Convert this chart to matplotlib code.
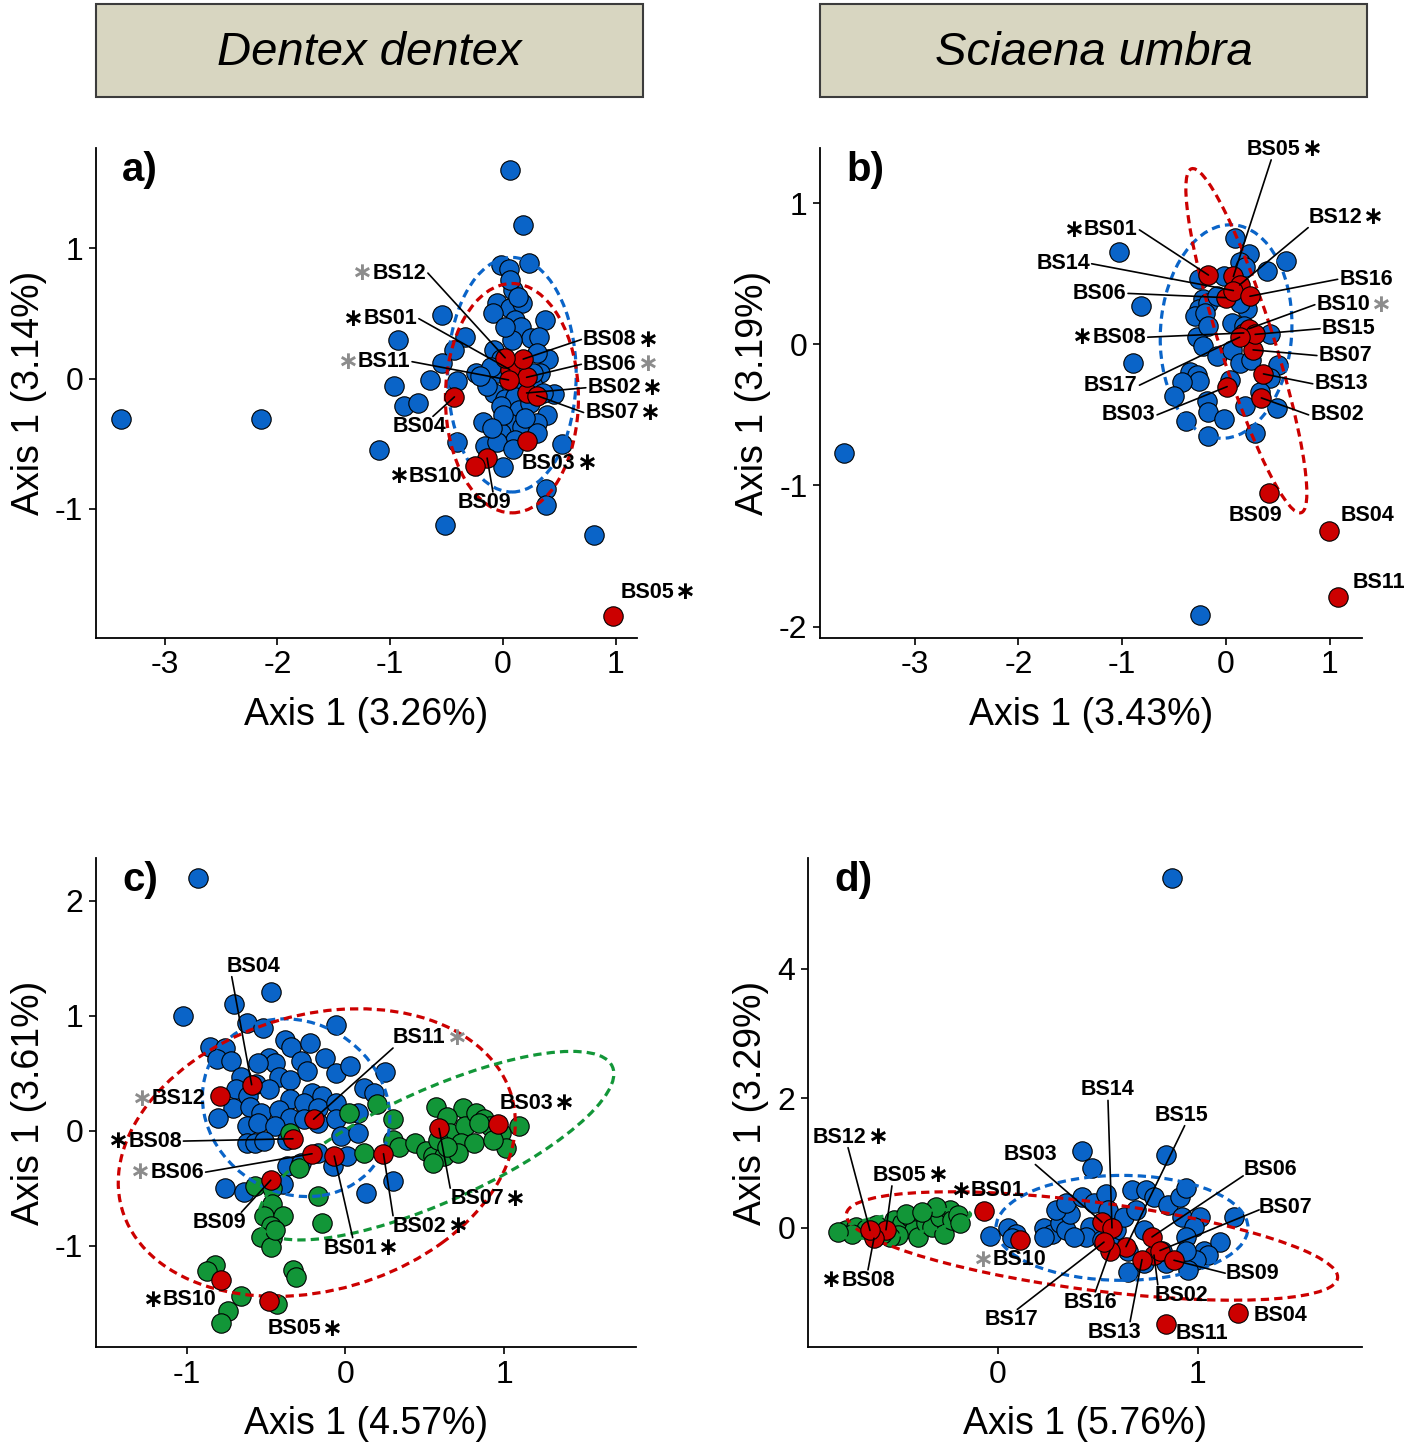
import numpy as np
import matplotlib
matplotlib.use("Agg")
import matplotlib.pyplot as plt
from matplotlib.patches import Ellipse, Rectangle

plt.rcParams['font.family'] = ['Liberation Sans', 'DejaVu Sans']

BLUE = '#0a64c8'
RED = '#cc0000'
GREEN = '#129638'
GRAY = '#8c8c8c'

# ---------------- panel a : Dentex dentex ----------------
a_blue_x = [-3.39, -2.15, -1.10, -0.93, -0.97, -0.88, -0.75, -0.65, -0.54, -0.51, 0.06, 0.18, 0.23,
            -0.02, 0.05, 0.81, 0.38, 0.38, 0.52, 0.00, -0.18, -0.41, -0.16, 0.37, 0.40, 0.45, 0.39,
            -0.34, -0.43, -0.54, -0.41, -0.24, -0.17, -0.05, 0.06, 0.17, 0.09, 0.11, 0.16, -0.09,
            0.25, 0.32, 0.08, -0.08, -0.02, 0.30, 0.33, -0.05, 0.14, -0.08, 0.02, 0.11, 0.27, -0.02,
            0.14, 0.24, 0.05, 0.17, 0.30, -0.02, 0.11, 0.30, -0.05, 0.09, -0.11, -0.14, 0.36, 0.27,
            0.06, 0.13, 0.02, -0.20, 0.20, 0.00, -0.10]
a_blue_y = [-0.31, -0.31, -0.55, 0.30, -0.06, -0.21, -0.19, -0.01, 0.49, -1.12, 1.60, 1.18, 0.89,
            0.87, 0.84, -1.20, -0.85, -0.97, -0.50, -0.68, -0.33, -0.49, -0.52, 0.45, 0.15, -0.12, -0.28,
            0.32, 0.22, 0.12, -0.02, 0.04, 0.01, 0.58, 0.54, 0.58, 0.68, 0.45, 0.40, 0.50,
            0.31, 0.32, 0.30, 0.22, 0.15, 0.20, 0.04, 0.04, -0.01, -0.11, -0.16, -0.14, -0.06, -0.21,
            -0.24, -0.19, -0.34, -0.37, -0.34, -0.42, -0.47, -0.42, -0.49, -0.54, 0.09, -0.06, -0.11, 0.04,
            0.76, 0.63, 0.40, 0.02, -0.30, -0.28, -0.38]
a_green_x = []
a_green_y = []
a_red_names = ['BS01', 'BS02', 'BS03', 'BS04', 'BS05', 'BS06', 'BS07', 'BS08', 'BS09', 'BS10', 'BS11', 'BS12']
a_red_x = [0.06, 0.21, 0.21, -0.43, 0.98, 0.21, 0.30, 0.18, -0.14, -0.25, 0.05, 0.02]
a_red_y = [0.07, -0.11, -0.48, -0.14, -1.82, 0.01, -0.13, 0.15, -0.61, -0.67, -0.01, 0.16]

# ---------------- panel b : Sciaena umbra ----------------
b_blue_x = [-3.68, -1.03, -0.82, -0.90, -0.25, 0.09, 0.22, 0.58, 0.39, -0.26, -0.02, 0.13, 0.18,
            -0.22, -0.26, -0.17, -0.09, -0.30, -0.20, 0.20, 0.13, -0.28, -0.17, 0.06, 0.17, 0.42,
            -0.22, -0.09, 0.06, 0.13, 0.24, 0.50, 0.42, -0.35, -0.28, -0.26, -0.42, -0.50, -0.18,
            -0.17, -0.02, -0.39, -0.17, 0.18, 0.28, 0.49, 0.33, 0.04]
b_blue_y = [-0.77, 0.65, 0.27, -0.13, -1.92, 0.75, 0.64, 0.59, 0.52, 0.46, 0.48, 0.58, 0.55,
            0.32, 0.25, 0.29, 0.34, 0.20, 0.22, 0.25, 0.29, 0.05, 0.13, 0.15, 0.13, 0.07,
            -0.01, -0.08, -0.04, -0.13, -0.11, -0.15, -0.24, -0.20, -0.22, -0.26, -0.27, -0.37, -0.40,
            -0.48, -0.53, -0.54, -0.65, -0.44, -0.63, -0.45, -0.34, -0.25]
b_green_x = []
b_green_y = []
b_red_names = ['BS01', 'BS02', 'BS03', 'BS04', 'BS05', 'BS06', 'BS07', 'BS08', 'BS09', 'BS10', 'BS11',
               'BS12', 'BS13', 'BS14', 'BS15', 'BS16', 'BS17']
b_red_x = [-0.17, 0.34, 0.01, 0.99, 0.07, 0.00, 0.26, 0.17, 0.41, 0.22, 1.08, 0.13, 0.36, 0.07, 0.28, 0.23, 0.13]
b_red_y = [0.49, -0.38, -0.30, -1.32, 0.48, 0.33, -0.04, 0.08, -1.05, 0.11, -1.79, 0.42, -0.21, 0.38, 0.07, 0.34, 0.05]

# ---------------- panel c : Dentex dentex ----------------
c_blue_x = [-0.93, -1.02, -0.47, -0.70, -0.62, -0.52, -0.85, -0.76, -0.81, -0.72, -0.38, -0.34, -0.48,
            -0.44, -0.28, -0.13, -0.06, -0.66, -0.56, -0.42, -0.35, -0.24, -0.06, 0.03, -0.69, -0.61,
            -0.48, -0.35, -0.21, -0.15, -0.71, -0.80, -0.60, -0.53, -0.42, -0.35, -0.26, -0.17, -0.06,
            0.12, 0.18, 0.25, -0.62, -0.55, -0.44, -0.26, -0.17, -0.06, 0.08, -0.62, -0.57, -0.51, -0.37,
            -0.03, 0.08, -0.37, -0.28, -0.17, -0.08, -0.76, -0.64, -0.39, 0.13, 0.30, 0.01, -0.55, -0.22]
c_blue_y = [2.20, 1.00, 1.21, 1.10, 0.94, 0.89, 0.73, 0.72, 0.62, 0.61, 0.79, 0.73, 0.63,
            0.59, 0.61, 0.63, 0.92, 0.47, 0.41, 0.47, 0.44, 0.52, 0.50, 0.56, 0.36, 0.30,
            0.36, 0.28, 0.33, 0.30, 0.20, 0.11, 0.21, 0.15, 0.18, 0.11, 0.24, 0.20, 0.24,
            0.37, 0.33, 0.51, 0.04, 0.07, 0.04, 0.10, 0.07, 0.10, 0.15, -0.11, -0.11, -0.09, -0.08,
            -0.05, -0.02, -0.31, -0.28, -0.19, -0.31, -0.50, -0.53, -0.46, -0.54, -0.44, -0.22, 0.59, 0.76]
c_green_x = [0.02, 0.20, 0.30, -0.35, 0.12, 0.30, 0.34, 0.44, 0.51, 0.57, 0.74, 0.64, 0.66, 0.75,
             0.82, 0.87, 0.91, 0.98, 1.09, 0.73, 0.81, 0.55, 0.62, 0.71, 0.55, 1.01, 0.84, 0.58, 0.64,
             0.93, -0.29, -0.57, -0.46, -0.17, -0.15, -0.46, -0.51, -0.39, -0.47, -0.46, -0.53, -0.47,
             -0.44, -0.82, -0.87, -0.66, -0.74, -0.78, -0.43, -0.33, -0.31]
c_green_y = [0.15, 0.23, 0.10, -0.02, -0.19, -0.08, -0.14, -0.11, -0.18, 0.21, 0.20, 0.12, -0.02, 0.04,
             0.15, 0.10, 0.04, -0.02, 0.04, -0.11, -0.11, -0.22, -0.22, -0.19, -0.28, -0.15, 0.07, -0.08,
             -0.14, -0.08, -0.32, -0.48, -0.50, -0.57, -0.80, -0.64, -0.74, -0.74, -0.83, -0.93, -0.92,
             -1.01, -0.86, -1.17, -1.22, -1.44, -1.57, -1.67, -1.51, -1.21, -1.27]
c_red_names = ['BS01', 'BS02', 'BS03', 'BS04', 'BS05', 'BS06', 'BS07', 'BS08', 'BS09', 'BS10', 'BS11', 'BS12']
c_red_x = [-0.07, 0.24, 0.96, -0.59, -0.48, -0.21, 0.59, -0.33, -0.47, -0.78, -0.20, -0.79]
c_red_y = [-0.22, -0.20, 0.06, 0.40, -1.48, -0.20, 0.02, -0.07, -0.43, -1.30, 0.10, 0.30]

# ---------------- panel d : Sciaena umbra ----------------
d_blue_x = [0.87, 0.42, 0.47, 0.84, -0.04, 0.05, 0.09, 0.07, 0.23, 0.27, 0.31, 0.34, 0.36, 0.29,
            0.34, 0.42, 0.48, 0.54, 0.55, 0.46, 0.44, 0.52, 0.59, 0.63, 0.67, 0.74, 0.69, 0.73, 0.78,
            0.85, 0.91, 0.94, 0.92, 1.01, 0.98, 0.94, 1.03, 1.11, 1.05, 0.99, 0.95, 0.65, 0.73, 0.84,
            0.82, 1.18, 0.65, 0.57, 0.94, 0.23, 0.38]
d_blue_y = [5.40, 1.18, 0.93, 1.12, -0.13, 0.00, -0.09, -0.16, 0.00, -0.09, 0.07, -0.04, 0.22, 0.27,
            0.38, 0.48, 0.38, 0.53, 0.27, 0.02, -0.14, -0.19, -0.04, 0.17, 0.58, 0.58, 0.27, -0.04, 0.48,
            0.35, 0.48, 0.61, 0.17, 0.17, 0.02, -0.14, -0.35, -0.22, -0.42, -0.50, -0.65, -0.68, -0.55, -0.55,
            -0.35, 0.17, -0.35, -0.29, -0.35, -0.14, -0.14]
d_green_x = [-0.76, -0.71, -0.66, -0.61, -0.55, -0.52, -0.48, -0.44, -0.42, -0.40, -0.36, -0.33, -0.29,
             -0.27, -0.24, -0.23, -0.20, -0.19, -0.50, -0.46, -0.31, -0.38, -0.54, -0.58, -0.73, -0.80]
d_green_y = [-0.04, 0.02, -0.01, 0.04, -0.04, 0.12, 0.07, 0.17, -0.04, -0.14, 0.07, 0.02, 0.17,
             -0.09, 0.27, 0.12, 0.20, 0.07, -0.11, 0.22, 0.32, 0.25, -0.14, -0.09, -0.09, -0.06]
d_red_names = ['BS01', 'BS02', 'BS03', 'BS04', 'BS05', 'BS06', 'BS07', 'BS08', 'BS09', 'BS10', 'BS11',
               'BS12', 'BS13', 'BS14', 'BS15', 'BS16', 'BS17']
d_red_x = [-0.07, 0.78, 0.52, 1.20, -0.56, 0.77, 0.81, -0.62, 0.88, 0.11, 0.84, -0.64, 0.72, 0.57, 0.64, 0.56, 0.53]
d_red_y = [0.26, -0.42, 0.09, -1.32, -0.03, -0.14, -0.35, -0.16, -0.50, -0.19, -1.48, -0.04, -0.49, 0.00, -0.29, -0.35, -0.22]

# ellipses: centre x, centre y, semi-axis a, semi-axis b, angle (deg)
a_ell = {BLUE: (0.08, 0.03, 0.57, 0.90, 0), RED: (0.08, -0.15, 0.59, 0.88, 0)}
b_ell = {BLUE: (0.00, 0.09, 0.63, 0.76, -10), RED: (0.195, 0.025, 1.328, 0.25, 113.8)}
c_ell = {BLUE: (-0.31, 0.20, 0.58, 0.78, 12), RED: (-0.18, -0.19, 1.374, 1.112, 45),
         GREEN: (0.57, -0.13, 1.312, 0.453, 33.7)}
d_ell = {BLUE: (0.62, 0.00, 0.63, 0.81, 0), RED: (0.47, -0.28, 1.349, 0.624, -27.8),
         GREEN: (-0.48, 0.06, 0.38, 0.15, 28)}

# label layout: text x, text y, ha, line anchor on text ('auto', tuple or None), star
a_lab = {
    'BS12': (-0.68, 0.81, 'right', 'auto', ('pre', GRAY)),
    'BS01': (-0.76, 0.46, 'right', 'auto', ('pre', 'black')),
    'BS11': (-0.82, 0.13, 'right', 'auto', ('pre', GRAY)),
    'BS04': (-0.74, -0.37, 'center', (0.75, 1.0), None),
    'BS10': (-0.36, -0.75, 'right', None, ('pre', 'black')),
    'BS09': (-0.16, -0.95, 'center', (0.65, 1.0), None),
    'BS03': (0.17, -0.65, 'left', None, ('post', 'black')),
    'BS08': (0.71, 0.30, 'left', 'auto', ('post', 'black')),
    'BS06': (0.71, 0.11, 'left', 'auto', ('post', GRAY)),
    'BS02': (0.75, -0.07, 'left', 'auto', ('post', 'black')),
    'BS07': (0.73, -0.26, 'left', 'auto', ('post', 'black')),
    'BS05': (1.04, -1.64, 'left', None, ('post', 'black')),
}
b_lab = {
    'BS05': (0.46, 1.38, 'center', (0.45, 0.0), ('post', 'black')),
    'BS12': (0.79, 0.90, 'left', (0.0, 0.0), ('post', 'black')),
    'BS01': (-0.85, 0.81, 'right', 'auto', ('pre', 'black')),
    'BS14': (-1.31, 0.57, 'right', 'auto', None),
    'BS06': (-0.96, 0.36, 'right', 'auto', None),
    'BS16': (1.09, 0.46, 'left', 'auto', None),
    'BS10': (0.87, 0.28, 'left', 'auto', ('post', GRAY)),
    'BS08': (-0.77, 0.05, 'right', 'auto', ('pre', 'black')),
    'BS15': (0.92, 0.11, 'left', 'auto', None),
    'BS07': (0.89, -0.08, 'left', 'auto', None),
    'BS17': (-0.85, -0.29, 'right', 'auto', None),
    'BS13': (0.85, -0.28, 'left', 'auto', None),
    'BS03': (-0.68, -0.50, 'right', 'auto', None),
    'BS02': (0.81, -0.50, 'left', 'auto', None),
    'BS09': (0.28, -1.21, 'center', None, None),
    'BS04': (1.10, -1.21, 'left', None, None),
    'BS11': (1.22, -1.69, 'left', None, None),
}
c_lab = {
    'BS04': (-0.58, 1.43, 'center', (0.1, 0.0), None),
    'BS11': (0.30, 0.81, 'left', (0.0, 0.0), ('post', GRAY)),
    'BS12': (-0.88, 0.28, 'right', None, ('pre', GRAY)),
    'BS08': (-1.03, -0.09, 'right', 'auto', ('pre', 'black')),
    'BS06': (-0.89, -0.36, 'right', 'auto', ('pre', GRAY)),
    'BS09': (-0.79, -0.80, 'center', (0.9, 1.0), None),
    'BS01': (-0.14, -1.02, 'left', (0.55, 1.0), ('post', 'black')),
    'BS02': (0.30, -0.83, 'left', (0.0, 1.0), ('post', 'black')),
    'BS07': (0.66, -0.59, 'left', (0.0, 1.0), ('post', 'black')),
    'BS03': (0.97, 0.24, 'left', None, ('post', 'black')),
    'BS10': (-0.81, -1.47, 'right', None, ('pre', 'black')),
    'BS05': (-0.49, -1.72, 'left', None, ('post', 'black')),
}
d_lab = {
    'BS12': (-0.79, 1.40, 'center', (0.65, 0.0), ('post', 'black')),
    'BS05': (-0.49, 0.81, 'center', (0.35, 0.0), ('post', 'black')),
    'BS08': (-0.65, -0.81, 'center', (0.5, 1.0), ('pre', 'black')),
    'BS01': (0.00, 0.57, 'center', None, ('pre', 'black')),
    'BS10': (0.11, -0.49, 'center', None, ('pre', GRAY)),
    'BS03': (0.16, 1.14, 'center', (0.6, 0.0), None),
    'BS14': (0.55, 2.13, 'center', (0.5, 0.0), None),
    'BS15': (0.92, 1.74, 'center', (0.55, 0.0), None),
    'BS06': (1.36, 0.90, 'center', (0.0, 0.2), None),
    'BS07': (1.44, 0.31, 'center', (0.0, 0.4), None),
    'BS09': (1.27, -0.70, 'center', (0.0, 0.5), None),
    'BS02': (0.92, -1.04, 'center', (0.05, 1.0), None),
    'BS13': (0.58, -1.61, 'center', (0.8, 1.0), None),
    'BS16': (0.46, -1.15, 'center', (0.6, 1.0), None),
    'BS17': (0.07, -1.42, 'center', (0.6, 1.0), None),
    'BS04': (1.28, -1.35, 'left', None, None),
    'BS11': (0.89, -1.63, 'left', None, None),
}


def put_label(ax, name, px, py, spec):
    tx, ty, ha, anchor, star = spec
    t = ax.text(tx, ty, name, ha=ha, va='center', fontsize=15.5, fontweight='bold',
                zorder=7, clip_on=False)
    if star is not None:
        side, col = star
        if side == 'pre':
            ax.annotate('∗', xy=(0, 0.5), xycoords=t, ha='right', va='center', fontsize=18,
                        fontweight='bold', color=col, zorder=7, family=['DejaVu Sans'])
        else:
            ax.annotate('∗', xy=(1, 0.5), xycoords=t, ha='left', va='center', fontsize=18,
                        fontweight='bold', color=col, zorder=7, family=['DejaVu Sans'])
    if anchor is None:
        return
    if anchor == 'auto':
        if ha == 'right':
            anchor = (1.03, 0.5)
        elif ha == 'left':
            anchor = (-0.03, 0.5)
        else:
            anchor = (0.5, 0.0) if ty > py else (0.5, 1.0)
    ax.annotate('', xy=(px, py), xytext=anchor, textcoords=t, zorder=6,
                arrowprops=dict(arrowstyle='-', color='black', lw=1.2, shrinkA=0, shrinkB=0))


def draw_panel(ax, letter, bx, by, gx, gy, names, rx, ry, ells, labels,
               xlim, ylim, xticks, yticks, xlab, ylab):
    ax.scatter(bx, by, s=195, c=BLUE, edgecolors='black', linewidths=0.8, zorder=2)
    if gx:
        ax.scatter(gx, gy, s=195, c=GREEN, edgecolors='black', linewidths=0.8, zorder=2.5)
    for col, (cx, cy, sa, sb, ang) in ells.items():
        ax.add_patch(Ellipse((cx, cy), 2 * sa, 2 * sb, angle=ang, fill=False, edgecolor=col,
                             lw=2.3, linestyle=(0, (2.6, 1.6)), zorder=3))
    ax.scatter(rx, ry, s=195, c=RED, edgecolors='black', linewidths=0.8, zorder=4)
    for n, x, y in zip(names, rx, ry):
        put_label(ax, n, x, y, labels[n])
    ax.set_xlim(*xlim)
    ax.set_ylim(*ylim)
    ax.set_xticks(xticks)
    ax.set_yticks(yticks)
    ax.set_xticklabels([str(v) for v in xticks])
    ax.set_yticklabels([str(v) for v in yticks])
    for s in ['top', 'right']:
        ax.spines[s].set_visible(False)
    for s in ['left', 'bottom']:
        ax.spines[s].set_linewidth(1.3)
    ax.tick_params(direction='out', length=5, width=1.2, labelsize=23, pad=4)
    ax.set_xlabel(xlab, fontsize=27, labelpad=12)
    ax.set_ylabel(ylab, fontsize=27, labelpad=6)
    ax.text(0.048, 0.955, letter, transform=ax.transAxes, fontsize=29, fontweight='bold',
            va='center', ha='left')


fig = plt.figure(figsize=(14.22, 14.45), dpi=100)

ax_a = fig.add_axes([0.0675, 0.5585, 0.3805, 0.3391])
ax_b = fig.add_axes([0.5767, 0.5585, 0.3812, 0.3391])
ax_c = fig.add_axes([0.0675, 0.0678, 0.3798, 0.3384])
ax_d = fig.add_axes([0.5682, 0.0678, 0.3896, 0.3384])

draw_panel(ax_a, 'a)', a_blue_x, a_blue_y, a_green_x, a_green_y, a_red_names, a_red_x, a_red_y,
           a_ell, a_lab, (-3.61, 1.19), (-1.99, 1.77), [-3, -2, -1, 0, 1], [-1, 0, 1],
           'Axis 1 (3.26%)', 'Axis 1 (3.14%)')
draw_panel(ax_b, 'b)', b_blue_x, b_blue_y, b_green_x, b_green_y, b_red_names, b_red_x, b_red_y,
           b_ell, b_lab, (-3.91, 1.31), (-2.08, 1.39), [-3, -2, -1, 0, 1], [-2, -1, 0, 1],
           'Axis 1 (3.43%)', 'Axis 1 (3.19%)')
draw_panel(ax_c, 'c)', c_blue_x, c_blue_y, c_green_x, c_green_y, c_red_names, c_red_x, c_red_y,
           c_ell, c_lab, (-1.57, 1.83), (-1.88, 2.37), [-1, 0, 1], [-1, 0, 1, 2],
           'Axis 1 (4.57%)', 'Axis 1 (3.61%)')
draw_panel(ax_d, 'd)', d_blue_x, d_blue_y, d_green_x, d_green_y, d_red_names, d_red_x, d_red_y,
           d_ell, d_lab, (-0.95, 1.82), (-1.84, 5.71), [0, 1], [0, 2, 4],
           'Axis 1 (5.76%)', 'Axis 1 (3.29%)')

# species header boxes
for x0, name in [(0.0675, 'Dentex dentex'), (0.5767, 'Sciaena umbra')]:
    fig.patches.append(Rectangle((x0, 0.933), 0.3847, 0.064, transform=fig.transFigure,
                                 facecolor='#d8d6c1', edgecolor='#3c3c3c', lw=1.5))
    fig.text(x0 + 0.3847 / 2, 0.963, name, ha='center', va='center', fontsize=34,
             fontstyle='italic')

fig.savefig('out.png', dpi=100)
